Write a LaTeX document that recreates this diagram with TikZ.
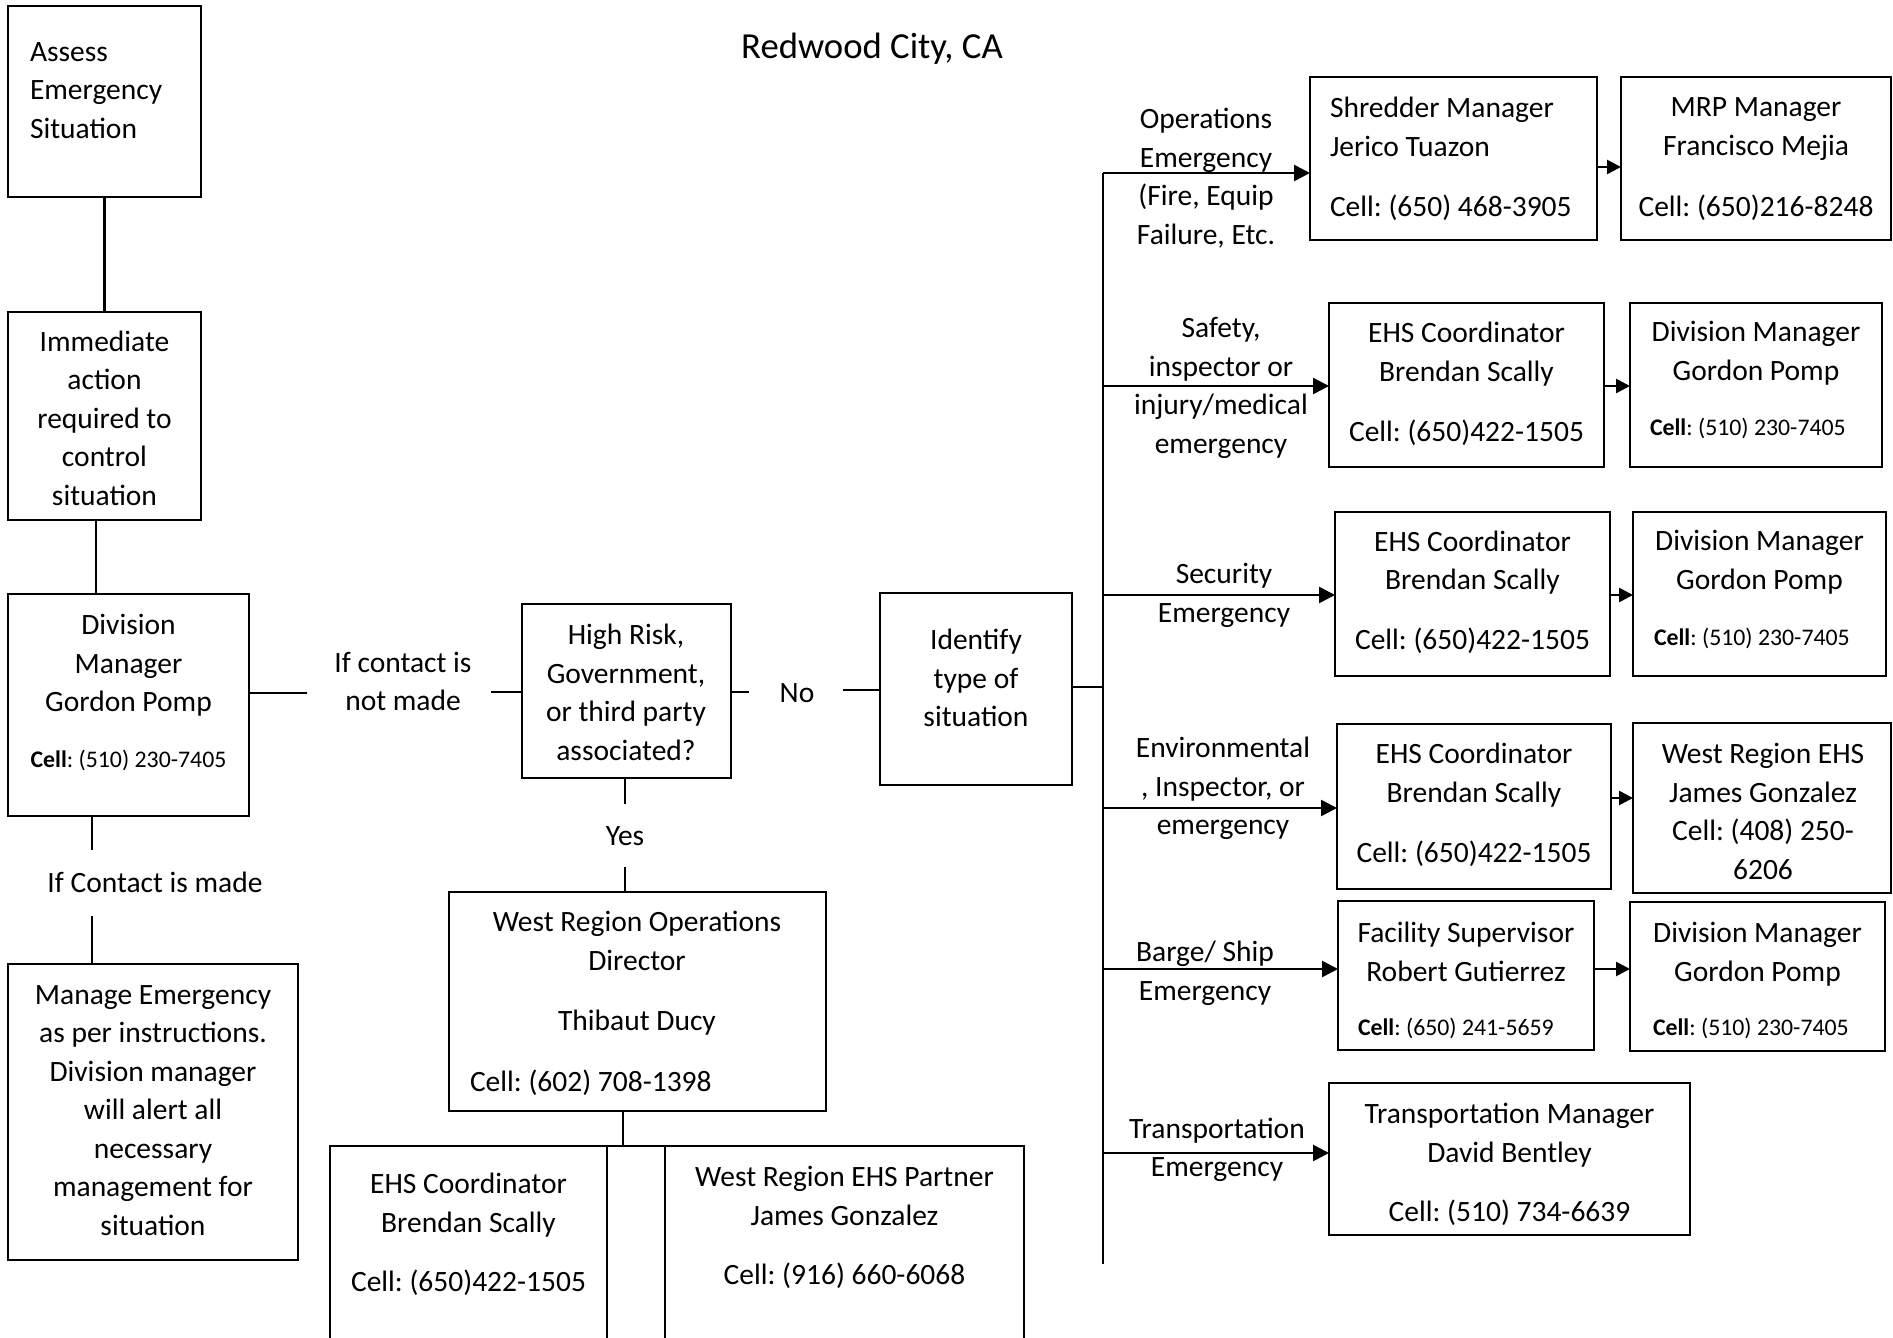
\documentclass[tikz,border=0pt]{standalone}
\usepackage{fontspec}
\setmainfont{Carlito}
\usetikzlibrary{arrows.meta,fit}
\frenchspacing
\begin{document}
\begin{tikzpicture}[x=1pt,y=-1pt,
  line width=2.6pt,
  every node/.style={inner sep=0pt, outer sep=0pt},
  box/.style={draw, line width=2.6pt, rectangle},
  txt/.style={font=\fontsize{29.5}{38.5}\selectfont\frenchspacing, align=center, yshift=-6pt,
    execute at begin node=\strut, execute at end node=\strut},
  one/.style={txt, yshift=3pt},
  ltxt/.style={txt, align=left, anchor=west},
  lone/.style={one, align=left, anchor=west},
  small/.style={font=\fontsize{23.8}{28}\selectfont\frenchspacing, align=center, yshift=-2pt},
  lsmall/.style={small, anchor=west},
  arr/.style={-{Triangle[length=16pt,width=16pt]}},
  sarr/.style={-{Triangle[length=14pt,width=14pt]}}
]
\useasboundingbox (0,0) rectangle (1893,1338);
\fill[white] (0,0) rectangle (1893,1338);
\clip (0,0) rectangle (1893,1338);

% title
\node[font=\fontsize{36.7}{44}\selectfont, yshift=-3pt] (title) at (872,46) {Redwood City, CA};

% left column
\node[box, fit={(8,6) (201,197)}] (A) {};
\node[ltxt] (Atxt) at (30,90) {Assess\\Emergency\\Situation};

\node[box, fit={(8,312) (201,520)}] (B) {};
\node[txt] (Btxt) at (104.5,418) {Immediate\\action\\required to\\control\\situation};

\node[box, fit={(8,594) (249,816)}] (D) {};
\node[txt] (Dtxt) at (128.5,663) {Division\\Manager\\Gordon Pomp};
\node[small] (Dcell) at (128.5,758) {\textbf{Cell}: (510) 230-7405};

\node[one] (madeLbl) at (155,882) {If Contact is made};

\node[box, fit={(8,964) (298,1260)}] (M) {};
\node[txt] (Mtxt) at (153,1110) {Manage Emergency\\as per instructions.\\Division manager\\will alert all\\necessary\\management for\\situation};

% middle
\node[txt] (notLbl) at (403,681) {If contact is\\not made};

\node[box, fit={(522,604) (731,778)}] (H) {};
\node[txt] (Htxt) at (626,692) {High Risk,\\Government,\\or third party\\associated?};

\node[one] (noLbl) at (797,692) {No};

\node[box, fit={(880,593) (1072,785)}] (I) {};
\node[txt] (Itxt) at (976,678) {Identify\\type of\\situation};

\node[one] (yesLbl) at (625,835) {Yes};

\node[box, fit={(449,892) (826,1111)}] (WR) {};
\node[txt] (WRtxt) at (637,940.5) {West Region Operations\\Director};
\node[one] (WRname) at (637,1020) {Thibaut Ducy};
\node[lone] (WRcell) at (470,1081) {Cell: (602) 708-1398};

\node[box, fit={(330,1146) (607,1360)}] (EHSb) {};
\node[txt] (EHSbtxt) at (468.5,1202.5) {EHS Coordinator\\Brendan Scally};
\node[one] (EHSbcell) at (468.5,1281) {Cell: (650)422-1505};

\node[box, fit={(665,1146) (1024,1360)}] (WRP) {};
\node[txt] (WRPtxt) at (844.5,1195.5) {West Region EHS Partner\\James Gonzalez};
\node[one] (WRPcell) at (844.5,1274) {Cell: (916) 660-6068};

% right side: situation types
\node[txt] (opsLbl) at (1206,176) {Operations\\Emergency\\(Fire, Equip\\Failure, Etc.};
\node[box, fit={(1310,77) (1597,240)}] (shred) {};
\node[ltxt] (shredtxt) at (1330,126.5) {Shredder Manager\\Jerico Tuazon};
\node[lone] (shredcell) at (1330,206) {Cell: (650) 468-3905};
\node[box, fit={(1621,77) (1891,240)}] (mrp) {};
\node[txt] (mrptxt) at (1756,126.5) {MRP Manager\\Francisco Mejia};
\node[one] (mrpcell) at (1756,206) {Cell: (650)216-8248};

\node[txt] (safLbl) at (1221,385) {Safety,\\inspector or\\injury/medical\\emergency};
\node[box, fit={(1329,303) (1604,467)}] (ehs1) {};
\node[txt] (ehs1txt) at (1466.5,351.5) {EHS Coordinator\\Brendan Scally};
\node[one] (ehs1cell) at (1466.5,431) {Cell: (650)422-1505};
\node[box, fit={(1630,303) (1882,467)}] (div1) {};
\node[txt] (div1txt) at (1756,350.5) {Division Manager\\Gordon Pomp};
\node[lsmall] (div1cell) at (1650,426) {\textbf{Cell}: (510) 230-7405};

\node[txt] (secLbl) at (1224,592.5) {Security\\Emergency};
\node[box, fit={(1335,512) (1610,676)}] (ehs2) {};
\node[txt] (ehs2txt) at (1472.5,560) {EHS Coordinator\\Brendan Scally};
\node[one] (ehs2cell) at (1472.5,639) {Cell: (650)422-1505};
\node[box, fit={(1633,512) (1886,676)}] (div2) {};
\node[txt] (div2txt) at (1759.5,559.5) {Division Manager\\Gordon Pomp};
\node[lsmall] (div2cell) at (1654,636) {\textbf{Cell}: (510) 230-7405};

\node[txt] (envLbl) at (1223,786) {Environmental\\, Inspector, or\\emergency};
\node[box, fit={(1337,724) (1611,889)}] (ehs3) {};
\node[txt] (ehs3txt) at (1474,772.5) {EHS Coordinator\\Brendan Scally};
\node[one] (ehs3cell) at (1474,852) {Cell: (650)422-1505};
\node[box, fit={(1633,723) (1891,893)}] (wr3) {};
\node[txt] (wr3txt) at (1763,811) {West Region EHS\\James Gonzalez\\Cell: (408) 250-\\6206};

\node[txt] (bargeLbl) at (1205,970.5) {Barge/ Ship\\Emergency};
\node[box, fit={(1338,901) (1594,1050)}] (fac) {};
\node[txt] (factxt) at (1466,951.5) {Facility Supervisor\\Robert Gutierrez};
\node[lsmall] (faccell) at (1358,1026) {\textbf{Cell}: (650) 241-5659};
\node[box, fit={(1630,902) (1885,1051)}] (div4) {};
\node[txt] (div4txt) at (1757.5,951.5) {Division Manager\\Gordon Pomp};
\node[lsmall] (div4cell) at (1653,1026) {\textbf{Cell}: (510) 230-7405};

\node[txt] (transLbl) at (1217,1147) {Transportation\\Emergency};
\node[box, fit={(1329,1083) (1690,1235)}] (trans) {};
\node[txt] (transtxt) at (1509.5,1132.5) {Transportation Manager\\David Bentley};
\node[one] (transcell) at (1509.5,1211) {Cell: (510) 734-6639};

% connector end points beside the labels
\coordinate (bd) at (96,0);
\coordinate (dm1) at (92,850);
\coordinate (dm2) at (92,916);
\coordinate (dc) at (307,693);
\coordinate (ch) at (491,692);
\coordinate (hn) at (749,692);
\coordinate (ni) at (843,690);
\coordinate (hy) at (625,804);
\coordinate (yw) at (625,867);
\coordinate (wb) at (623,0);
\coordinate (busTop) at (1103,173);
\coordinate (busBot) at (1103,1264);
\coordinate (busI) at (1103,687);
\coordinate (busSaf) at (1103,386);
\coordinate (busSec) at (1103,595);
\coordinate (busEnv) at (1103,808);
\coordinate (busBar) at (1103,969);
\coordinate (busTra) at (1103,1153);

% left column connectors
\draw (A.south) -- (B.north);
\draw (B.south -| bd) -- (D.north -| bd);
\draw (D.south -| dm1) -- (dm1);
\draw (dm2) -- (M.north -| dm2);

% decision path
\draw (D.east |- dc) -- (dc);
\draw (ch) -- (H.west |- ch);
\draw (H.east |- hn) -- (hn);
\draw (ni) -- (I.west |- ni);
\draw (I.east |- busI) -- (busI);
\draw (H.south -| hy) -- (hy);
\draw (yw) -- (WR.north -| yw);
\draw (WR.south -| wb) -- (EHSb.north -| wb);
\draw (EHSb.north east) -- (WRP.north west);

% bus and branches
\draw (busTop) -- (busBot);
\draw[arr] (busTop) -- (shred.west |- busTop);
\draw[arr] (busSaf) -- (ehs1.west |- busSaf);
\draw[arr] (busSec) -- (ehs2.west |- busSec);
\draw[arr] (busEnv) -- (ehs3.west |- busEnv);
\draw[arr] (busBar) -- (fac.west |- busBar);
\draw[arr] (busTra) -- (trans.west |- busTra);

% escalation arrows
\draw[sarr] ([yshift=6pt]shred.east |- busTop) -- ([yshift=6pt]mrp.west |- busTop);
\draw[sarr] (ehs1.east |- busSaf) -- (div1.west |- busSaf);
\draw[sarr] (ehs2.east |- busSec) -- (div2.west |- busSec);
\draw[sarr] ([yshift=10pt]ehs3.east |- busEnv) -- ([yshift=10pt]wr3.west |- busEnv);
\draw[sarr] (fac.east |- busBar) -- (div4.west |- busBar);
\end{tikzpicture}
\end{document}
